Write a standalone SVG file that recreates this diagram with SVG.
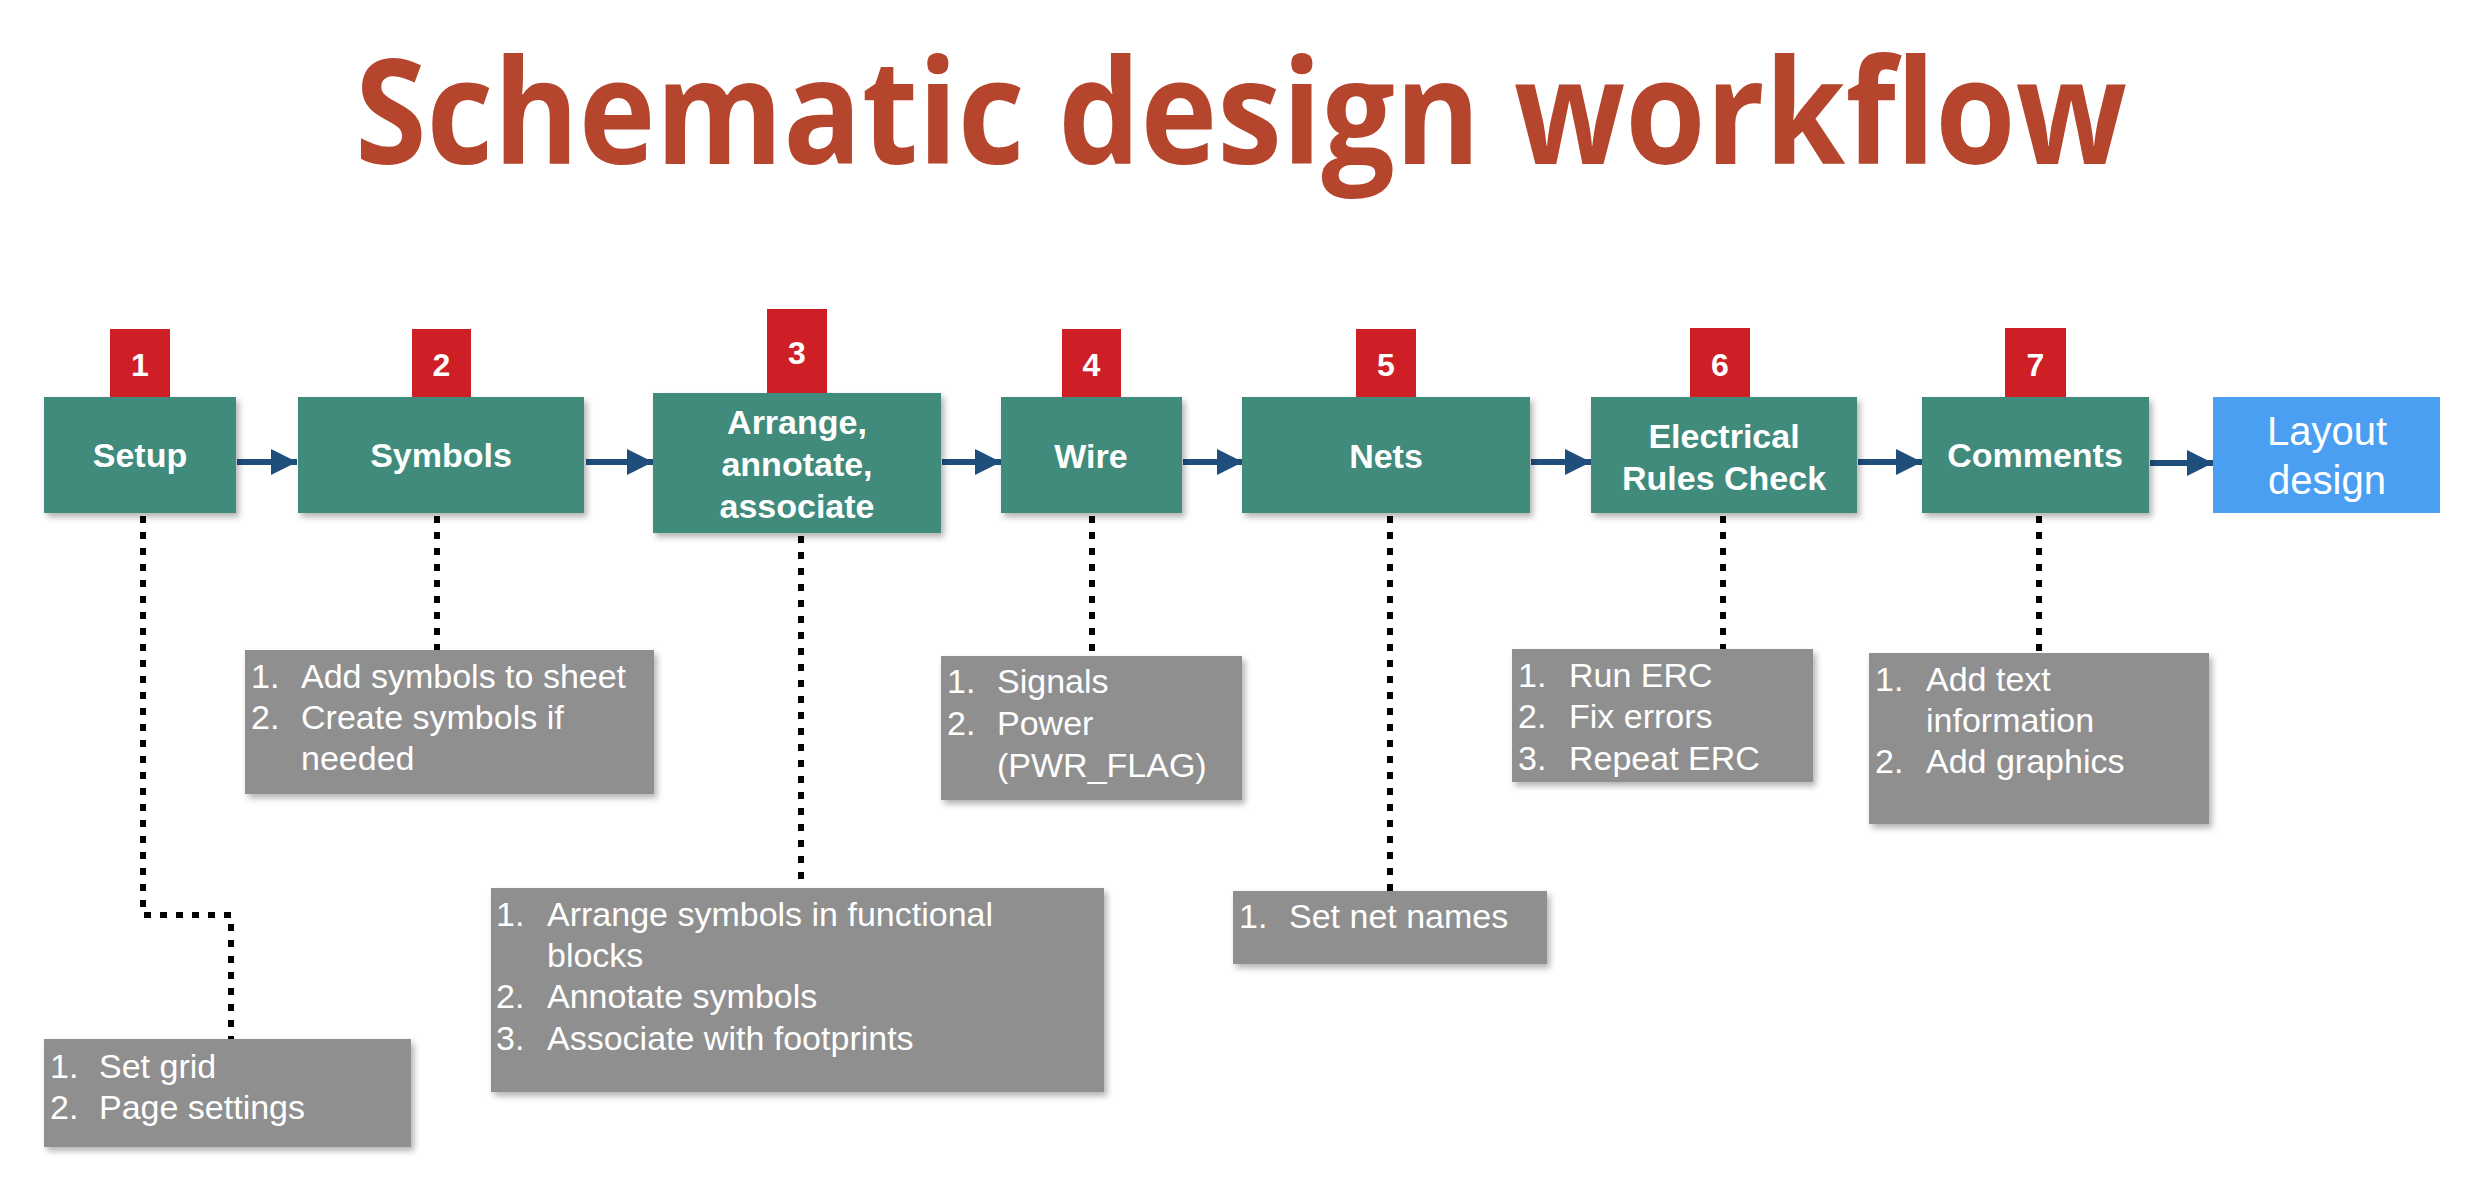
<svg xmlns="http://www.w3.org/2000/svg" width="2486" height="1188" viewBox="0 0 2486 1188">
<style>
.step{fill:#418B7B}
.badge{fill:#CF1F26}
.note{fill:#8F8F8F}
.layout{fill:#4A9FF2}
.st{font-family:"Liberation Sans",Arial,sans-serif;font-weight:bold;font-size:34px;fill:#fff;text-anchor:middle}
.bn{font-family:"Liberation Sans",Arial,sans-serif;font-weight:bold;font-size:32px;fill:#fff;text-anchor:middle}
.nt{font-family:"Liberation Sans",Arial,sans-serif;font-size:34px;fill:#fff}
.lt{font-family:"Liberation Sans",Arial,sans-serif;font-size:40px;fill:#fff;text-anchor:middle}
.arrow{stroke:#1F4E7D;stroke-width:6;fill:none}
.dot{stroke:#000;stroke-width:6;fill:none;stroke-dasharray:7 9}
</style>
<defs>
<filter id="sh" x="-10%" y="-10%" width="130%" height="140%">
<feDropShadow dx="3" dy="4" stdDeviation="3" flood-color="#000" flood-opacity="0.3"/>
</filter>
<marker id="ah" markerUnits="userSpaceOnUse" markerWidth="26" markerHeight="26" refX="26" refY="13" orient="auto">
<path d="M0,0 L26,13 L0,26 z" fill="#1F4E7D"/>
</marker>
</defs>
<rect width="2486" height="1188" fill="#fff"/>
<text x="355" y="164" font-family="'Open Sans',sans-serif" font-weight="bold" font-size="146" fill="#B5452C" textLength="1772" lengthAdjust="spacingAndGlyphs">Schematic design workflow</text>

<g id="connectors">
<line class="arrow" x1="237" y1="462" x2="297" y2="462" marker-end="url(#ah)"/>
<line class="arrow" x1="586" y1="462" x2="653" y2="462" marker-end="url(#ah)"/>
<line class="arrow" x1="942" y1="462" x2="1001" y2="462" marker-end="url(#ah)"/>
<line class="arrow" x1="1183" y1="462" x2="1243" y2="462" marker-end="url(#ah)"/>
<line class="arrow" x1="1531" y1="462" x2="1591" y2="462" marker-end="url(#ah)"/>
<line class="arrow" x1="1858" y1="462" x2="1922" y2="462" marker-end="url(#ah)"/>
<line class="arrow" x1="2150" y1="463" x2="2213" y2="463" marker-end="url(#ah)"/>
<polyline class="dot" points="143,516 143,915 231,915 231,1039"/>
<line class="dot" x1="437" y1="516" x2="437" y2="650"/>
<line class="dot" x1="801" y1="536" x2="801" y2="888"/>
<line class="dot" x1="1092" y1="516" x2="1092" y2="656"/>
<line class="dot" x1="1390" y1="516" x2="1390" y2="891"/>
<line class="dot" x1="1723" y1="516" x2="1723" y2="649"/>
<line class="dot" x1="2039" y1="516" x2="2039" y2="653"/>
</g>

<g id="step1">
<rect class="step" x="44" y="397" width="192" height="116" filter="url(#sh)"/>
<rect class="badge" x="110" y="329" width="60" height="68"/>
<text class="bn" x="140" y="376">1</text>
<text class="st" x="140" y="467">Setup</text>
</g>
<g id="step2">
<rect class="step" x="298" y="397" width="286" height="116" filter="url(#sh)"/>
<rect class="badge" x="412" y="329" width="59" height="68"/>
<text class="bn" x="441.5" y="376">2</text>
<text class="st" x="441" y="467">Symbols</text>
</g>
<g id="step3">
<rect class="step" x="653" y="393" width="288" height="140" filter="url(#sh)"/>
<rect class="badge" x="767" y="309" width="60" height="84"/>
<text class="bn" x="797" y="364">3</text>
<text class="st" x="797" y="434">Arrange,</text>
<text class="st" x="797" y="476">annotate,</text>
<text class="st" x="797" y="518">associate</text>
</g>
<g id="step4">
<rect class="step" x="1001" y="397" width="181" height="116" filter="url(#sh)"/>
<rect class="badge" x="1062" y="329" width="59" height="68"/>
<text class="bn" x="1091.5" y="376">4</text>
<text class="st" x="1091" y="468">Wire</text>
</g>
<g id="step5">
<rect class="step" x="1242" y="397" width="288" height="116" filter="url(#sh)"/>
<rect class="badge" x="1356" y="329" width="60" height="68"/>
<text class="bn" x="1386" y="376">5</text>
<text class="st" x="1386" y="468">Nets</text>
</g>
<g id="step6">
<rect class="step" x="1591" y="397" width="266" height="116" filter="url(#sh)"/>
<rect class="badge" x="1690" y="328" width="60" height="69"/>
<text class="bn" x="1720" y="376">6</text>
<text class="st" x="1724" y="448">Electrical</text>
<text class="st" x="1724" y="490">Rules Check</text>
</g>
<g id="step7">
<rect class="step" x="1922" y="397" width="227" height="116" filter="url(#sh)"/>
<rect class="badge" x="2005" y="328" width="61" height="69"/>
<text class="bn" x="2035.5" y="376">7</text>
<text class="st" x="2035" y="467">Comments</text>
</g>
<g id="layout">
<rect class="layout" x="2213" y="397" width="227" height="116"/>
<text class="lt" x="2327" y="445">Layout</text>
<text class="lt" x="2327" y="494">design</text>
</g>

<g id="note1">
<rect class="note" x="44" y="1039" width="367" height="108" filter="url(#sh)"/>
<text class="nt" x="50" y="1078">1.</text><text class="nt" x="99" y="1078">Set grid</text>
<text class="nt" x="50" y="1119">2.</text><text class="nt" x="99" y="1119">Page settings</text>
</g>
<g id="note2">
<rect class="note" x="245" y="650" width="409" height="144" filter="url(#sh)"/>
<text class="nt" x="251" y="688">1.</text><text class="nt" x="301" y="688">Add symbols to sheet</text>
<text class="nt" x="251" y="729">2.</text><text class="nt" x="301" y="729">Create symbols if</text>
<text class="nt" x="301" y="770">needed</text>
</g>
<g id="note3">
<rect class="note" x="491" y="888" width="613" height="204" filter="url(#sh)"/>
<text class="nt" x="496" y="926">1.</text><text class="nt" x="547" y="926">Arrange symbols in functional</text>
<text class="nt" x="547" y="967">blocks</text>
<text class="nt" x="496" y="1008">2.</text><text class="nt" x="547" y="1008">Annotate symbols</text>
<text class="nt" x="496" y="1050">3.</text><text class="nt" x="547" y="1050">Associate with footprints</text>
</g>
<g id="note4">
<rect class="note" x="941" y="656" width="301" height="144" filter="url(#sh)"/>
<text class="nt" x="947" y="693">1.</text><text class="nt" x="997" y="693">Signals</text>
<text class="nt" x="947" y="735">2.</text><text class="nt" x="997" y="735">Power</text>
<text class="nt" x="997" y="777">(PWR_FLAG)</text>
</g>
<g id="note5">
<rect class="note" x="1233" y="891" width="314" height="73" filter="url(#sh)"/>
<text class="nt" x="1239" y="928">1.</text><text class="nt" x="1289" y="928">Set net names</text>
</g>
<g id="note6">
<rect class="note" x="1512" y="649" width="301" height="133" filter="url(#sh)"/>
<text class="nt" x="1518" y="687">1.</text><text class="nt" x="1569" y="687">Run ERC</text>
<text class="nt" x="1518" y="728">2.</text><text class="nt" x="1569" y="728">Fix errors</text>
<text class="nt" x="1518" y="770">3.</text><text class="nt" x="1569" y="770">Repeat ERC</text>
</g>
<g id="note7">
<rect class="note" x="1869" y="653" width="340" height="171" filter="url(#sh)"/>
<text class="nt" x="1875" y="691">1.</text><text class="nt" x="1926" y="691">Add text</text>
<text class="nt" x="1926" y="732">information</text>
<text class="nt" x="1875" y="773">2.</text><text class="nt" x="1926" y="773">Add graphics</text>
</g>
</svg>
